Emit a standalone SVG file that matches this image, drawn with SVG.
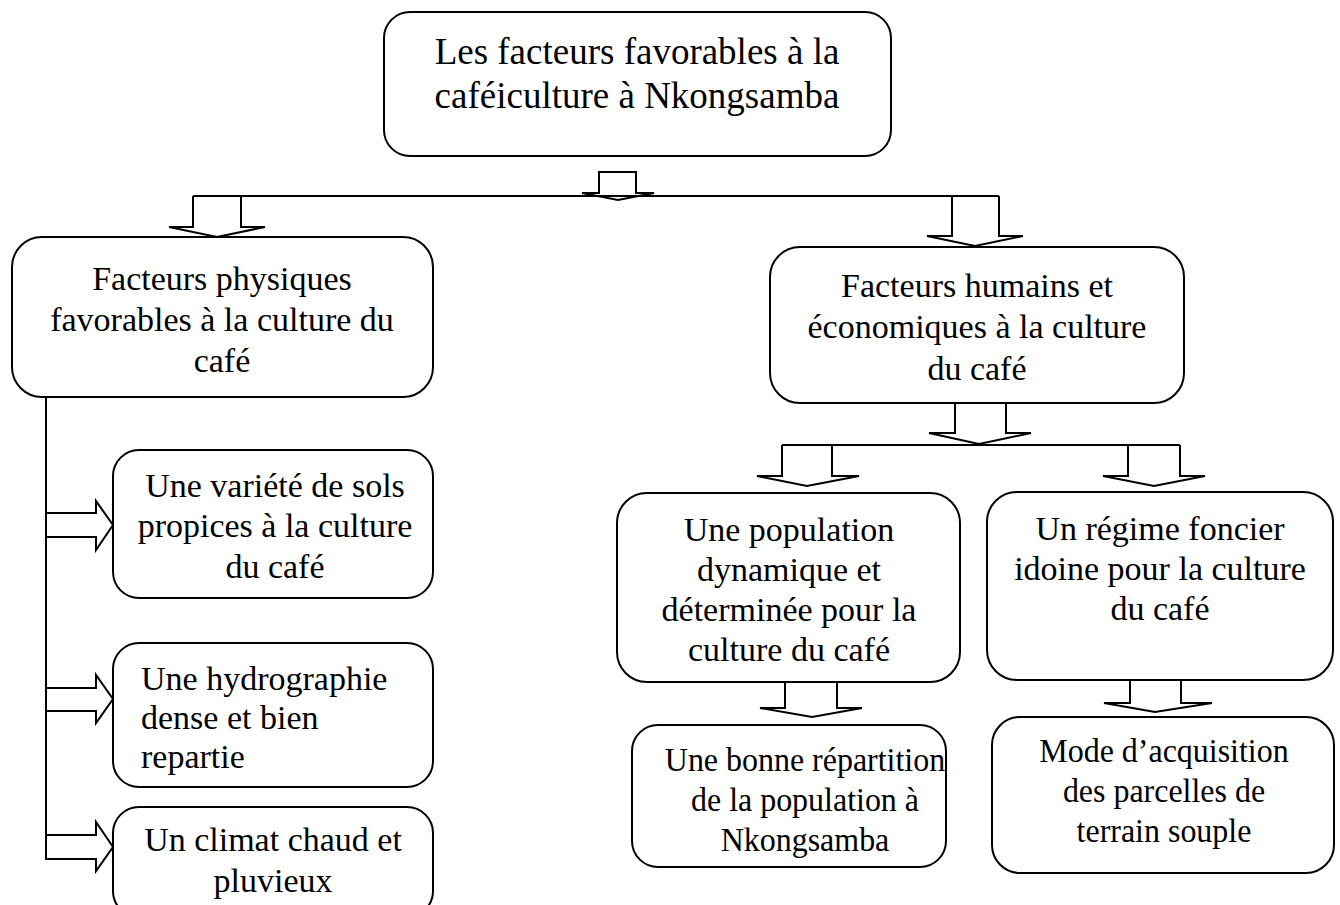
<svg xmlns="http://www.w3.org/2000/svg" width="1340" height="905" viewBox="0 0 1340 905">
<style>
.box{fill:#fff;stroke:#000;stroke-width:2}
.arr{fill:none;stroke:#000;stroke-width:2;stroke-linejoin:miter}
.ln{fill:none;stroke:#000;stroke-width:2}
text{font-family:"Liberation Serif","Times New Roman",serif;fill:#000;font-size:34px}
.c{text-anchor:middle}
.big{font-size:37px}
</style>
<rect width="1340" height="905" fill="#fff"/>
<g id="connectors">
<path class="ln" d="M193,196 H999"/>
<path class="arr" d="M599,193 V172 H636 V193 H654 L618,200 L582,193 Z"/>
<path class="arr" d="M193,196 V227 H169 L217,237 L265,227 H241 V196"/>
<path class="arr" d="M952,196 V236 H927 L975,246 L1023,236 H999 V196"/>
<path class="ln" d="M46,397 V835"/>
<path class="arr" d="M46,513 H96 V501 L113,525 L96,550 V537 H46"/>
<path class="arr" d="M46,688 H96 V675 L113,699 L96,723 V711 H46"/>
<path class="arr" d="M46,835 H96 V822 L113,847 L96,871 V859 H46 V835"/>
<path class="arr" d="M955,403 V433 H929 L979,444 L1031,433 H1006 V403"/>
<path class="ln" d="M782,445 H1180"/>
<path class="arr" d="M782,445 V476 H757 L807,486 L859,476 H832 V445"/>
<path class="arr" d="M1128,445 V476 H1103 L1154,486 L1205,476 H1180 V445"/>
<path class="arr" d="M785,682 V708 H760 L812,717 L862,708 H837 V682"/>
<path class="arr" d="M1130,680 V703 H1104 L1155,712 L1212,703 H1181 V680"/>
</g>
<g id="n-root">
<rect class="box" x="384" y="12" width="507" height="144" rx="26"/>
<text class="c big" x="637" y="64">Les facteurs favorables à la</text>
<text class="c big" x="637" y="108">caféiculture à Nkongsamba</text>
</g>
<g id="n-physiques">
<rect class="box" x="12" y="237" width="421" height="160" rx="30"/>
<text class="c" x="222" y="290">Facteurs physiques</text>
<text class="c" x="222" y="331">favorables à la culture du</text>
<text class="c" x="222" y="372">café</text>
</g>
<g id="n-humains">
<rect class="box" x="770" y="247" width="414" height="156" rx="30"/>
<text class="c" x="977" y="297">Facteurs humains et</text>
<text class="c" x="977" y="338">économiques à la culture</text>
<text class="c" x="977" y="380">du café</text>
</g>
<g id="n-sols">
<rect class="box" x="113" y="450" width="320" height="148" rx="26"/>
<text class="c" x="275" y="497">Une variété de sols</text>
<text class="c" x="275" y="537">propices à la culture</text>
<text class="c" x="275" y="578">du café</text>
</g>
<g id="n-hydro">
<rect class="box" x="113" y="643" width="320" height="144" rx="26"/>
<text x="141" y="690">Une hydrographie</text>
<text x="141" y="729">dense et bien</text>
<text x="141" y="768">repartie</text>
</g>
<g id="n-climat">
<rect class="box" x="113" y="807" width="320" height="110" rx="26"/>
<text class="c" x="273" y="851">Un climat chaud et</text>
<text class="c" x="273" y="892">pluvieux</text>
</g>
<g id="n-population">
<rect class="box" x="617" y="493" width="343" height="189" rx="30"/>
<text class="c" x="789" y="541">Une population</text>
<text class="c" x="789" y="581">dynamique et</text>
<text class="c" x="789" y="621">déterminée pour la</text>
<text class="c" x="789" y="661">culture du café</text>
</g>
<g id="n-regime">
<rect class="box" x="987" y="492" width="346" height="188" rx="30"/>
<text class="c" x="1160" y="540">Un régime foncier</text>
<text class="c" x="1160" y="580">idoine pour la culture</text>
<text class="c" x="1160" y="620">du café</text>
</g>
<g id="n-repartition">
<rect class="box" x="632" y="725" width="314" height="142" rx="26"/>
<g transform="translate(805,0) scale(0.94,1) translate(-805,0)">
<text class="c" x="805" y="771">Une bonne répartition</text>
<text class="c" x="805" y="811">de la population à</text>
<text class="c" x="805" y="851">Nkongsamba</text>
</g>
</g>
<g id="n-mode">
<rect class="box" x="992" y="717" width="342" height="156" rx="28"/>
<g transform="translate(1164,0) scale(0.94,1) translate(-1164,0)">
<text class="c" x="1164" y="762">Mode d’acquisition</text>
<text class="c" x="1164" y="802">des parcelles de</text>
<text class="c" x="1164" y="842">terrain souple</text>
</g>
</g>
</svg>
